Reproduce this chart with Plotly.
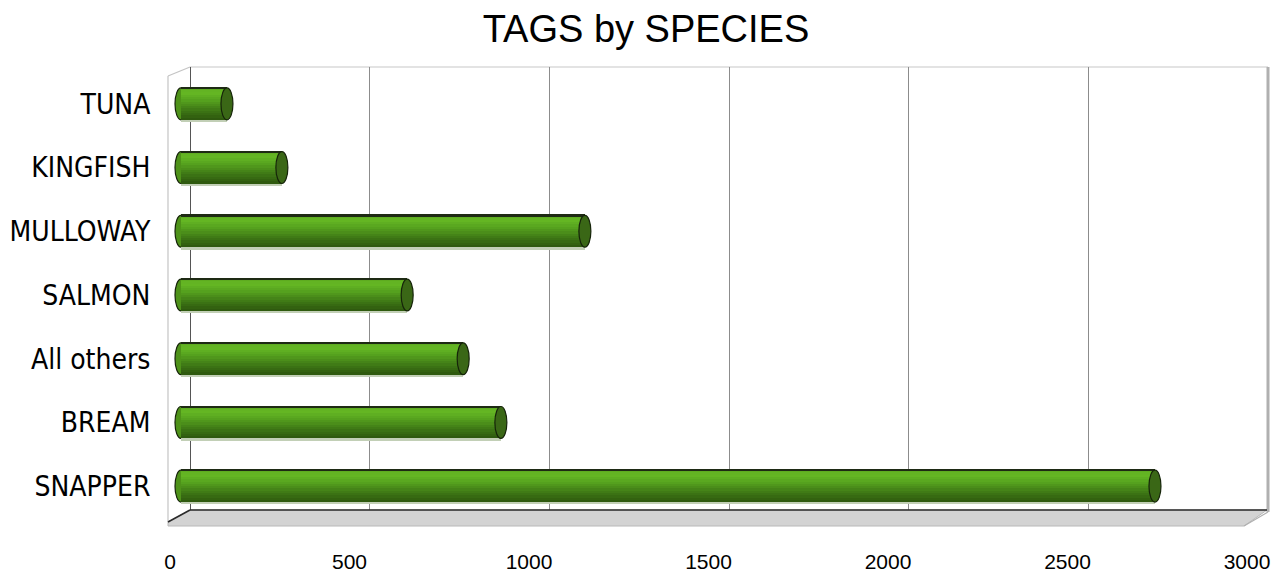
import plotly.graph_objects as go

# ---------------- data ----------------
species = ["SNAPPER", "BREAM", "All others", "SALMON", "MULLOWAY", "KINGFISH", "TUNA"]
tags = [2713, 891, 786, 630, 1125, 281, 128]
x_ticks = [0, 500, 1000, 1500, 2000, 2500, 3000]
x_max = 3000
title_text = "TAGS by SPECIES"

# ---------------- geometry helpers (pixels -> paper) ----------------
W, H = 1284, 574
OFF = 8  # page body margin offset
def px(x):
    return (x - OFF) / W
def py(y):
    return 1 - (y - OFF) / H

# bar axis: value 0 at pixel 181, value x_max at pixel 1258; extend left a bit so caps are not clipped
BAR_X0, BAR_X1, PAD = 181, 1258, 20
bar_scale = (BAR_X1 - BAR_X0) / x_max
bar_range_min = -PAD / bar_scale

# gradient colours for the cylinder (bottom -> top)
stops = [(0.0, (0x2d, 0x56, 0x0e)), (0.3, (0x3e, 0x78, 0x15)), (0.6, (0x55, 0xa0, 0x1e)),
         (0.85, (0x66, 0xb9, 0x24)), (1.0, (0x5c, 0xa8, 0x1f))]
def grad(t):
    for (t0, c0), (t1, c1) in zip(stops[:-1], stops[1:]):
        if t0 <= t <= t1:
            f = (t - t0) / (t1 - t0)
            return "rgb(%d,%d,%d)" % tuple(round(a + (b - a) * f) for a, b in zip(c0, c1))
    return "rgb(%d,%d,%d)" % stops[-1][1]

fig = go.Figure()

# invisible trace for the back-wall grid subplot
fig.add_trace(go.Scatter(x=[0, x_max], y=[0, 1], xaxis="x", yaxis="y", mode="markers",
                         marker=dict(opacity=0), hoverinfo="skip", showlegend=False))

BW = 0.5  # bar thickness in category units
N = 14
# soft shadow strip under bars
fig.add_trace(go.Bar(y=species, x=tags, orientation="h", xaxis="x2", yaxis="y2",
                     width=0.03, offset=-BW / 2 - 0.03, marker=dict(color="#c2cfb6", line=dict(width=0)),
                     hoverinfo="skip", showlegend=False))
for i in range(N):
    t = (i + 0.5) / N
    fig.add_trace(go.Bar(y=species, x=tags, orientation="h", xaxis="x2", yaxis="y2",
                         width=BW / N * 1.05, offset=-BW / 2 + i * BW / N,
                         marker=dict(color=grad(t), line=dict(width=0)),
                         hoverinfo="skip", showlegend=False))
# dark top edge
fig.add_trace(go.Bar(y=species, x=tags, orientation="h", xaxis="x2", yaxis="y2",
                     width=0.035, offset=BW / 2 - 0.02, marker=dict(color="#1e2a14", line=dict(width=0)),
                     hoverinfo="skip", showlegend=False))

# invisible trace for tick-label axis
fig.add_trace(go.Scatter(x=[0, x_max], y=[species[0], species[-1]], xaxis="x3", yaxis="y2", mode="markers",
                         marker=dict(opacity=0), hoverinfo="skip", showlegend=False))

shapes = []
# cylinder caps
for k, v in enumerate(tags):
    shapes.append(dict(type="circle", xref="x2", yref="y2", xsizemode="pixel", xanchor=0,
                       x0=-6, x1=6, y0=k - BW / 2, y1=k + BW / 2, layer="below",
                       fillcolor="#4e9219", line=dict(color="#16240a", width=1.2)))
    shapes.append(dict(type="circle", xref="x2", yref="y2", xsizemode="pixel", xanchor=v,
                       x0=-6, x1=6, y0=k - BW / 2, y1=k + BW / 2, layer="above",
                       fillcolor="#3a6716", line=dict(color="#16240a", width=1.2)))

# 3-D frame: floor, walls
floor_path = "M %f,%f L %f,%f L %f,%f L %f,%f L %f,%f Z" % (
    px(168), py(522), px(190), py(510), px(1267), py(510), px(1244), py(526), px(168), py(526))
shapes.append(dict(type="path", xref="paper", yref="paper", path=floor_path,
                   fillcolor="#d3d3d3", line=dict(color="#b8b8b8", width=1), layer="below"))
# dark back edge of floor and left diagonal
shapes.append(dict(type="line", xref="paper", yref="paper", x0=px(190), y0=py(510), x1=px(1267), y1=py(510),
                   line=dict(color="#2b2b2b", width=1.6)))
shapes.append(dict(type="line", xref="paper", yref="paper", x0=px(168), y0=py(522), x1=px(190), y1=py(510),
                   line=dict(color="#2b2b2b", width=1.6)))
# left wall
shapes.append(dict(type="line", xref="paper", yref="paper", x0=px(168), y0=py(76), x1=px(168), y1=py(522),
                   line=dict(color="#c4c4c4", width=1.2), layer="below"))
shapes.append(dict(type="line", xref="paper", yref="paper", x0=px(168), y0=py(76), x1=px(190), y1=py(67),
                   line=dict(color="#c4c4c4", width=1.2), layer="below"))
# top of back wall
shapes.append(dict(type="line", xref="paper", yref="paper", x0=px(190), y0=py(67), x1=px(1268), y1=py(67),
                   line=dict(color="#c8c8c8", width=1.2), layer="below"))
# right wall
shapes.append(dict(type="line", xref="paper", yref="paper", x0=px(1268), y0=py(67), x1=px(1268), y1=py(512),
                   line=dict(color="#b0b0b0", width=3), layer="below"))
shapes.append(dict(type="line", xref="paper", yref="paper", x0=px(1244), y0=py(526), x1=px(1268), y1=py(512),
                   line=dict(color="#b0b0b0", width=1.2), layer="below"))

fig.update_layout(
    width=W, height=H,
    margin=dict(l=0, r=0, t=0, b=0, autoexpand=False),
    paper_bgcolor="white", plot_bgcolor="rgba(0,0,0,0)",
    barmode="overlay", bargap=0,
    showlegend=False,
    title=dict(text=title_text, x=px(646), xanchor="center", y=py(29), yanchor="middle",
               font=dict(family="Liberation Sans, Arial, sans-serif", size=38, color="#000")),
    # back wall grid
    xaxis=dict(domain=[px(190), px(1268)], range=[0, x_max], anchor="y", dtick=500, tick0=0,
               showgrid=True, gridcolor="#8c8c8c", gridwidth=1, zeroline=True, zerolinecolor="#555",
               zerolinewidth=1, showticklabels=False, ticks="", showline=False, automargin=False),
    yaxis=dict(domain=[py(510), py(67)], range=[0, 1], visible=False, showgrid=False, zeroline=False,
               automargin=False),
    # bars
    xaxis2=dict(domain=[px(BAR_X0 - PAD), px(BAR_X1)], range=[bar_range_min, x_max], anchor="y2",
                visible=False, showgrid=False, zeroline=False, automargin=False),
    yaxis2=dict(domain=[py(518), py(72)], anchor="x2", type="category", categoryorder="array",
                categoryarray=species, range=[-0.5, len(species) - 0.5], showgrid=False, zeroline=False,
                showline=False, ticks="outside", ticklen=4, tickcolor="rgba(0,0,0,0)", automargin=False,
                tickfont=dict(family="Liberation Sans Narrow, DejaVu Sans Condensed, Roboto, sans-serif",
                              size=28, color="#000")),
    # tick labels (front edge)
    xaxis3=dict(domain=[px(170), px(1247)], range=[0, x_max], anchor="y2", tickvals=x_ticks,
                ticktext=[str(v) for v in x_ticks], showgrid=False, zeroline=False, showline=False,
                ticks="outside", ticklen=25, tickcolor="rgba(0,0,0,0)", automargin=False,
                tickfont=dict(family="Liberation Sans, Arial, sans-serif", size=21, color="#000")),
    shapes=shapes,
)

fig.write_html("out.html")
